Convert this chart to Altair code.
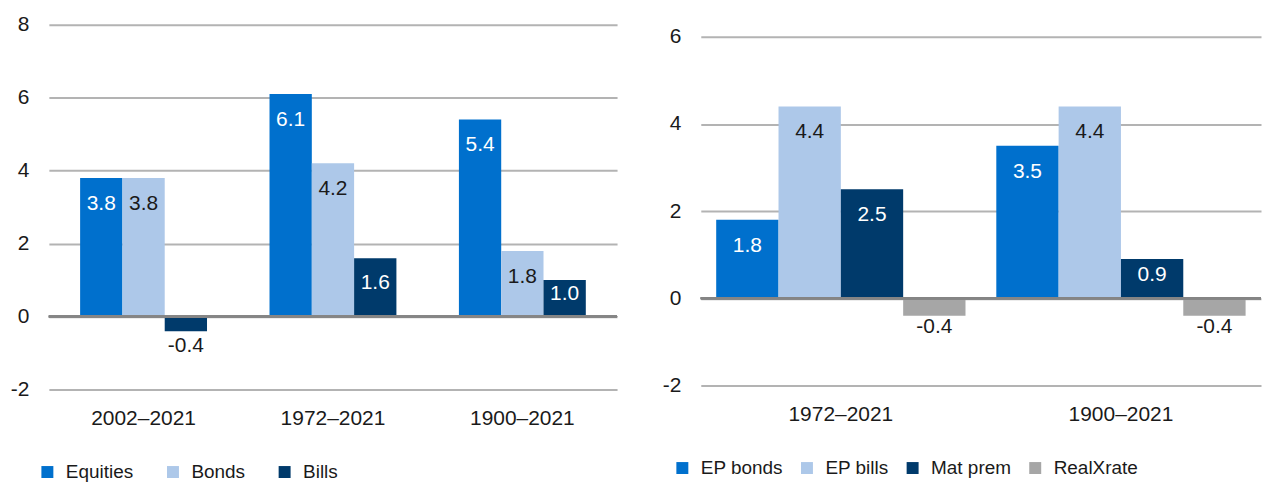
import altair as alt
import pandas as pd

# ---- data ----
left_periods = ["2002–2021", "1972–2021", "1900–2021"]
left_series = ["Equities", "Bonds", "Bills"]
equities = [3.8, 6.1, 5.4]
bonds = [3.8, 4.2, 1.8]
bills = [-0.4, 1.6, 1.0]
left_ticks = [-2, 0, 2, 4, 6, 8]

right_periods = ["1972–2021", "1900–2021"]
right_series = ["EP bonds", "EP bills", "Mat prem", "RealXrate"]
ep_bonds = [1.8, 3.5]
ep_bills = [4.4, 4.4]
mat_prem = [2.5, 0.9]
real_x_rate = [-0.4, -0.4]
right_ticks = [-2, 0, 2, 4, 6]

FONT = "Liberation Sans"
TXT = "#1a1a1a"


def long_df(periods, series, columns):
    rows = []
    for s, vals in zip(series, columns):
        for p, v in zip(periods, vals):
            rows.append({"period": p, "series": s, "value": v})
    return pd.DataFrame(rows)


def panel(df, periods, series, colors, dark, ticks, domain, width, height,
          band_pad, x_lab_pad, k_in, c_small, k_neg, leg_x, leg_y, col_pad):
    x = alt.X("period:N", sort=periods, title=None,
              scale=alt.Scale(paddingInner=band_pad, paddingOuter=band_pad / 2),
              axis=alt.Axis(labelAngle=0, labelPadding=x_lab_pad, labelBaseline="middle",
                            ticks=False, domain=False, labelFontSize=21, labelColor=TXT,
                            labelFont=FONT, grid=False))
    xo = alt.XOffset("series:N", sort=series,
                     scale=alt.Scale(paddingInner=0, paddingOuter=0))
    y_axis = alt.Axis(values=ticks, title=None, grid=True, gridColor="#B3B3B3",
                      gridWidth=2, ticks=False, domain=False, labelPadding=20,
                      labelFontSize=21, labelColor=TXT, labelFont=FONT,
                      minExtent=41, maxExtent=41,
                      labelExpr="replace(datum.label, '\u2212', '-')")
    y_scale = alt.Scale(domain=domain, nice=False, zero=False)
    color = alt.Color("series:N", sort=series,
                      scale=alt.Scale(domain=series, range=colors),
                      legend=alt.Legend(orient="none", legendX=leg_x, legendY=leg_y,
                                        direction="horizontal", title=None,
                                        symbolType="square", symbolSize=144,
                                        symbolStrokeWidth=0, labelFontSize=19,
                                        labelFont=FONT, labelColor=TXT,
                                        columnPadding=col_pad, labelOffset=9,
                                        padding=0, columns=len(series)))
    base = alt.Chart(df)
    bars = base.mark_bar().encode(
        x=x, xOffset=xo,
        y=alt.Y("value:Q", scale=y_scale, axis=y_axis),
        y2=alt.datum(0),
        color=color,
    )
    dark_list = "[" + ",".join("'" + s + "'" for s in dark) + "]"
    text = base.transform_calculate(
        label_y=f"datum.value >= 0 ? max(datum.value - {k_in}, datum.value / 2 + {c_small}) : datum.value - {k_neg}",
        label="replace(format(datum.value, '.1f'), '\u2212', '-')",
    ).mark_text(font=FONT, fontSize=21, baseline="middle", align="center").encode(
        x=x, xOffset=xo,
        y=alt.Y("label_y:Q", scale=y_scale),
        text="label:N",
        color=alt.condition(
            f"datum.value > 0 && indexof({dark_list}, datum.series) >= 0",
            alt.value("white"), alt.value(TXT)),
    )
    zero = base.mark_rule(color="#858585", strokeWidth=2).encode(y=alt.datum(0))
    return alt.layer(bars, text, zero).properties(width=width, height=height)


left_df = long_df(left_periods, left_series, [equities, bonds, bills])
right_df = long_df(right_periods, right_series, [ep_bonds, ep_bills, mat_prem, real_x_rate])

left = panel(left_df, left_periods, left_series,
             ["#0070CD", "#ADC8E9", "#003A6B"], ["Equities", "Bills"],
             left_ticks, [-2, 8], 570, 366, 0.33, 29,
             0.71, 0.11, 0.41, -11, 439, 30)

r_unit = 350 / 8.0
right = panel(right_df, right_periods, right_series,
              ["#0070CD", "#ADC8E9", "#003A6B", "#A6A6A6"], ["EP bonds", "Mat prem"],
              right_ticks, [-2 - 4 / r_unit, 6 + 12 / r_unit], 562, 366, 0.11, 25,
              0.594, 0.09, 0.25, -28, 435, 14)

chart = alt.hconcat(left, right, spacing=42).resolve_scale(
    color="independent", x="independent", y="independent", xOffset="independent"
).resolve_legend(color="independent").properties(
    padding={"left": 0, "top": 5, "right": 0, "bottom": 0},
    background="white",
).configure_view(strokeWidth=0, stroke="transparent")

chart.save("out.html", embed_options={"renderer": "svg", "actions": False})
